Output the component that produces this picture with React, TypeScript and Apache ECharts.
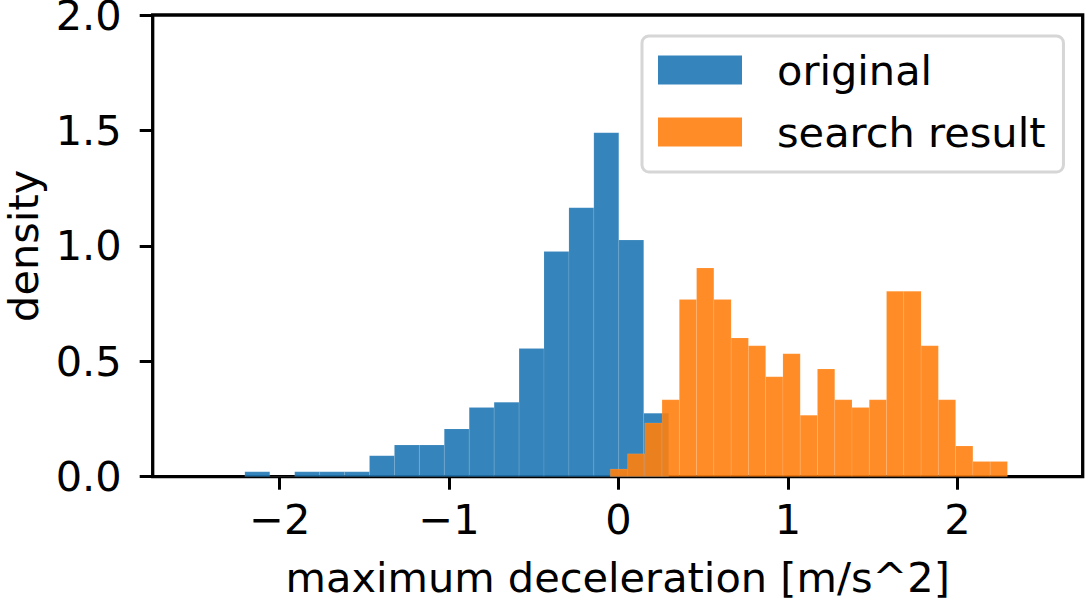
import React, { useEffect, useRef } from "react";
import * as echarts from "echarts";

// Histogram bins: first edge and common width (in m/s^2), plus density per bin
const originalBinStart = -2.206;
const originalBinWidth = 0.14716;
const originalDensity = [
  0.021, 0, 0.021, 0.021, 0.021, 0.091, 0.137, 0.137, 0.207, 0.3, 0.322, 0.555,
  0.975, 1.165, 1.49, 1.025, 0.275,
];

const searchBinStart = -0.049;
const searchBinWidth = 0.10194;
const searchDensity = [
  0.033, 0.099, 0.233, 0.333, 0.768, 0.904, 0.768, 0.601, 0.567, 0.433, 0.533,
  0.266, 0.467, 0.333, 0.3, 0.333, 0.803, 0.803, 0.567, 0.333, 0.133, 0.066,
  0.066,
];

const xTicks = [-2, -1, 0, 1, 2];
const seriesNames = ["original", "search result"];

const FONT = "DejaVu Sans";
const FONT_SIZE = 41.5;

function toBins(start: number, width: number, heights: number[]) {
  return heights.map((h, i) => [start + i * width, start + (i + 1) * width, h]);
}

function renderBar(params: any, api: any) {
  const lo = api.value(0);
  const hi = api.value(1);
  const h = api.value(2);
  const p0 = api.coord([lo, h]);
  const p1 = api.coord([hi, 0]);
  return {
    type: "rect",
    shape: { x: p0[0], y: p0[1], width: p1[0] - p0[0], height: p1[1] - p0[1] },
    style: {
      fill: api.visual("color"),
      stroke: "rgba(255,255,255,0.1)",
      lineWidth: 1,
    },
  };
}

export default function App() {
  const ref = useRef<HTMLDivElement>(null);

  useEffect(() => {
    document.body.style.margin = "0";
    const chart = echarts.init(ref.current!, null, { renderer: "svg" });
    chart.setOption({
      animation: false,
      backgroundColor: "#ffffff",
      textStyle: { fontFamily: FONT },
      grid: {
        left: 152.7,
        right: 3.3,
        top: 15,
        bottom: 124.3,
        outerBoundsMode: "none",
        containLabel: false,
        show: true,
        borderColor: "#000",
        borderWidth: 3.3,
        backgroundColor: "transparent",
      },
      legend: {
        orient: "vertical",
        left: 642,
        top: 36,
        padding: [13, 18, 19, 16],
        itemGap: 20,
        itemWidth: 84,
        itemHeight: 29,
        icon: "rect",
        backgroundColor: "rgba(255,255,255,0.8)",
        borderColor: "#d6d6d6",
        borderWidth: 3,
        borderRadius: 7,
        data: seriesNames,
        textStyle: {
          fontFamily: FONT,
          fontSize: FONT_SIZE,
          lineHeight: 42,
          color: "#000",
          padding: [0, 0, 0, 30],
        },
      },
      xAxis: {
        type: "value",
        min: -2.75,
        max: 2.74,
        name: "maximum deceleration [m/s^2]",
        nameLocation: "middle",
        nameGap: 80,
        nameTextStyle: { fontFamily: FONT, fontSize: FONT_SIZE, color: "#000" },
        axisLine: { show: false, onZero: false },
        splitLine: { show: false },
        axisTick: {
          show: true,
          length: 13,
          customValues: xTicks,
          lineStyle: { color: "#000", width: 3 },
        },
        axisLabel: {
          customValues: xTicks,
          margin: 22,
          fontFamily: FONT,
          fontSize: FONT_SIZE,
          color: "#000",
          formatter: (v: number) => String(v).replace("-", "\u2212"),
        },
      },
      yAxis: {
        type: "value",
        min: 0,
        max: 2,
        interval: 0.5,
        name: "density",
        nameLocation: "middle",
        nameRotate: 90,
        nameGap: 108,
        nameTextStyle: { fontFamily: FONT, fontSize: FONT_SIZE, color: "#000" },
        axisLine: { show: false, onZero: false },
        splitLine: { show: false },
        axisTick: {
          show: true,
          length: 13,
          lineStyle: { color: "#000", width: 3 },
        },
        axisLabel: {
          margin: 31,
          fontFamily: FONT,
          fontSize: FONT_SIZE,
          color: "#000",
          formatter: (v: number) => v.toFixed(1),
        },
      },
      series: [
        {
          name: seriesNames[0],
          type: "custom",
          renderItem: renderBar,
          itemStyle: { color: "rgba(31,119,180,0.9)" },
          encode: { x: [0, 1], y: 2 },
          data: toBins(originalBinStart, originalBinWidth, originalDensity),
          clip: true,
        },
        {
          name: seriesNames[1],
          type: "custom",
          renderItem: renderBar,
          itemStyle: { color: "rgba(255,127,14,0.9)" },
          encode: { x: [0, 1], y: 2 },
          data: toBins(searchBinStart, searchBinWidth, searchDensity),
          clip: true,
        },
      ],
    });
    return () => chart.dispose();
  }, []);

  return <div ref={ref} style={{ width: 1086, height: 601 }} />;
}
